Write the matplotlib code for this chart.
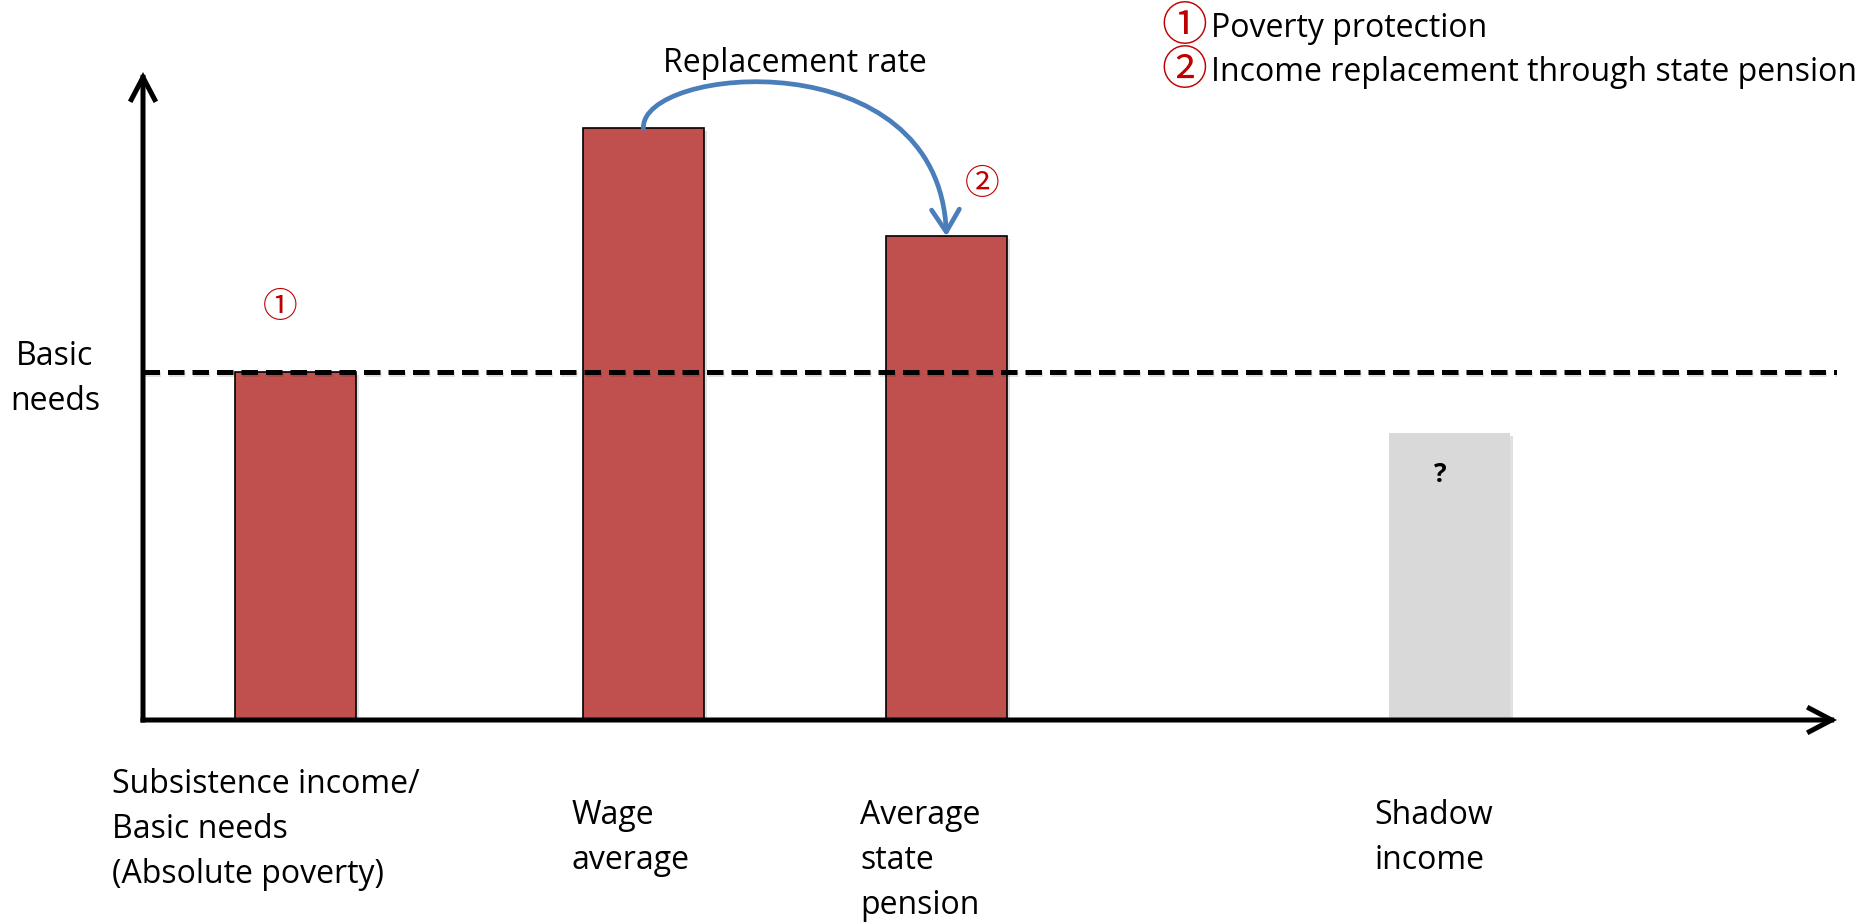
import matplotlib
matplotlib.use("Agg")
import matplotlib.pyplot as plt
from matplotlib.patches import FancyArrowPatch
from matplotlib.path import Path
import matplotlib.patheffects as pe

plt.rcParams['font.family'] = ['Open Sans', 'Noto Sans CJK JP', 'DejaVu Sans']

# ---- data -------------------------------------------------------------
categories = ["Subsistence income/\nBasic needs\n(Absolute poverty)",
              "Wage\naverage",
              "Average\nstate\npension",
              "Shadow\nincome"]
values = [100, 170, 139, 82.5]          # basic needs = 100
basic_needs = 100
bar_colors = ["#C0504D", "#C0504D", "#C0504D", "#D9D9D9"]
bar_edges = ["black", "black", "black", "none"]
x_pos = [1.264, 4.136, 6.64, 10.8]
label_x = [-0.256, 3.545, 5.926, 10.18]
legend_items = ["Poverty protection", "Income replacement through state pension"]
markers = ["\u2460", "\u2461"]

RED = "#C00000"
BLUE = "#4A7EBB"
FS = 23
LINE_PX = 45          # distance between text lines, in pixels

fig = plt.figure(figsize=(18.74, 9.23), dpi=100)
W, H = 1874, 923
ax = fig.add_axes([143 / W, (H - 720) / H, (1837 - 143) / W, (720 - 72) / H])
ax.set_xlim(0, 14)
ax.set_ylim(0, 186.2)
ax.axis("off")


def soft_shadow():
    return [pe.SimplePatchShadow(offset=(2, -2), alpha=0.12, shadow_rgbFace="black"), pe.Normal()]


# bars
for x, v, c, ec in zip(x_pos, values, bar_colors, bar_edges):
    b = ax.bar(x, v, width=1.0, color=c, edgecolor=ec, linewidth=1.2, zorder=2)
    for p in b:
        p.set_path_effects(soft_shadow())

# basic needs dashed line
ax.plot([0, 14], [basic_needs, basic_needs], color="black", lw=3.6,
        linestyle=(0, (3.3, 1.6)), zorder=4, solid_capstyle="butt",
        path_effects=[pe.SimpleLineShadow(offset=(1, -1.5), alpha=0.12), pe.Normal()])

# axes drawn as arrows
axis_style = dict(arrowstyle="->,head_length=0.8,head_width=0.42", mutation_scale=20,
                  lw=3.6, color="black", zorder=5, shrinkA=0, shrinkB=0,
                  capstyle="projecting", joinstyle="miter")
for start, end in [((0, 0), (0, 1)), ((0, 0), (1, 0))]:
    arr = FancyArrowPatch(start, end, transform=ax.transAxes, clip_on=False, **axis_style)
    ax.add_patch(arr)


def multiline(x, y, text, first_dy, ha="left"):
    """Place a multi-line label with a fixed pixel line pitch below (x, y)."""
    for i, line in enumerate(text.split("\n")):
        ax.annotate(line, xy=(x, y), xytext=(0, -(first_dy + i * LINE_PX)),
                    textcoords="offset pixels", ha=ha, va="baseline",
                    fontsize=FS, annotation_clip=False)


# category labels below the axis
for i, (lx, lab) in enumerate(zip(label_x, categories)):
    multiline(lx, 0, lab, 73 if i == 0 else 104)

# basic needs label on the left
multiline(-0.727, basic_needs, "Basic\nneeds", -7, ha="center")

# replacement rate arc from wage to pension
x0, y0 = x_pos[1], values[1]
x1, y1 = x_pos[2], values[2]
verts = [(x0, y0), (x0 - 0.03, 188.0), (x1 - 0.06, 196.0), (x1, y1)]
arc = FancyArrowPatch(path=Path(verts, [Path.MOVETO, Path.CURVE4, Path.CURVE4, Path.CURVE4]),
                      arrowstyle="->,head_length=0.8,head_width=0.5", mutation_scale=20,
                      lw=3.4, color=BLUE, zorder=6, transform=ax.transData, clip_on=False)
ax.add_patch(arc)
ax.text((x0 + x1) / 2, 186.2, "Replacement rate", ha="center", va="baseline", fontsize=FS)

# circled markers above bars
ax.annotate(markers[0], xy=(x_pos[0], values[0]), xytext=(-16, 64), textcoords="offset pixels",
            ha="center", va="center", fontsize=25, color=RED, family="Noto Sans CJK JP",
            annotation_clip=False)
ax.annotate(markers[1], xy=(x_pos[2], values[2]), xytext=(36, 52), textcoords="offset pixels",
            ha="center", va="center", fontsize=25, color=RED, family="Noto Sans CJK JP",
            annotation_clip=False)

# question mark on the shadow bar
ax.annotate("?", xy=(x_pos[3], values[3]), xytext=(-10, -42), textcoords="offset pixels",
            ha="center", va="center", fontsize=19, fontweight="bold")

# legend in the top-right corner
for k, (m, t) in enumerate(zip(markers, legend_items)):
    base = 37 + 44 * k
    fig.text(1184 / W, (H - base + 10) / H, m, ha="center", va="center", fontsize=33,
             color=RED, family="Noto Sans CJK JP")
    fig.text(1211 / W, (H - base) / H, t, ha="left", va="baseline", fontsize=FS)

fig.savefig("out.png", dpi=100, facecolor="white")
